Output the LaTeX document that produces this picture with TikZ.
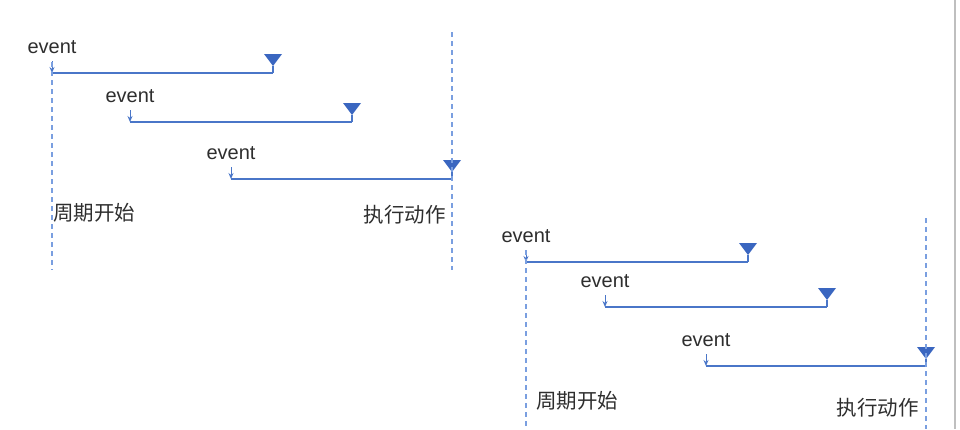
\documentclass[tikz,border=0pt]{standalone}
\usepackage{fontspec}
\setmainfont{Liberation Sans}
\newfontfamily\cjkfont{Noto Sans CJK SC}
\usepackage{xcolor}
\usepackage{tikz}
\usetikzlibrary{calc,positioning,arrows.meta}
\definecolor{evblue}{HTML}{4A76C8}
\definecolor{trblue}{HTML}{3A66C0}
\definecolor{dshblue}{HTML}{7A9FE0}
\definecolor{txtgray}{HTML}{2E2E2E}
\tikzset{
  evline/.style={evblue, line width=1.4pt},
  evarr/.style={evblue, line width=1pt, -{Stealth[length=6pt,width=5pt]}},
  trig/.style={fill=trblue},
  period/.style={dshblue, line width=1.3pt, dash pattern=on 5pt off 4pt},
  evtxt/.style={text=txtgray, font=\fontsize{20}{23}\selectfont, inner sep=0pt},
  cntxt/.style={text=txtgray, font=\cjkfont\fontsize{20.5}{24}\selectfont, inner sep=0pt}
}
\begin{document}
\begin{tikzpicture}[x=1pt,y=-1pt]
\useasboundingbox (0,0) rectangle (960,429);
\draw [black!25, line width=1.5pt] (955,0) -- (955,429);
\foreach\n/\x/\y/\e in {a/52/73/273, b/130/122/352, c/231/179/452, d/526/262/748, e/605/307/827, f/706/366/926}
{
  \coordinate (s\n) at (\x,\y);
  \coordinate (e\n) at (\e,\y);
  \node [evtxt] (t\n) at ($(s\n)+(0,-26)$) {event};
  \draw [evline] (s\n) -- (e\n);
  \draw [evarr] ($(s\n)+(0,-12)$) -- (s\n);
  \fill [trig] ($(e\n)+(-9,-19)$) -- ++(18,0) -- ($(e\n)+(0,-7)$) -- cycle;
  \draw [evline] ($(e\n)+(0,-7)$) -- (e\n);
}
\coordinate (p1t) at (52,62);   \coordinate (p1b) at (52,270);
\coordinate (q1t) at (452,32);  \coordinate (q1b) at (452,270);
\coordinate (p2t) at (526,250); \coordinate (p2b) at (526,429);
\coordinate (q2t) at (926,218); \coordinate (q2b) at (926,429);
\draw [period] (p1t) -- (p1b);
\draw [period] (q1t) -- (q1b);
\draw [period] (p2t) -- (p2b);
\draw [period] (q2t) -- (q2b);
\node [cntxt, anchor=west] (start1) at (53,213) {周期开始};
\node [cntxt, anchor=east] (act1) at (446,215) {执行动作};
\node [cntxt, anchor=west] (start2) at (536,401) {周期开始};
\node [cntxt, anchor=east] (act2) at (919,408) {执行动作};
\end{tikzpicture}
\end{document}
